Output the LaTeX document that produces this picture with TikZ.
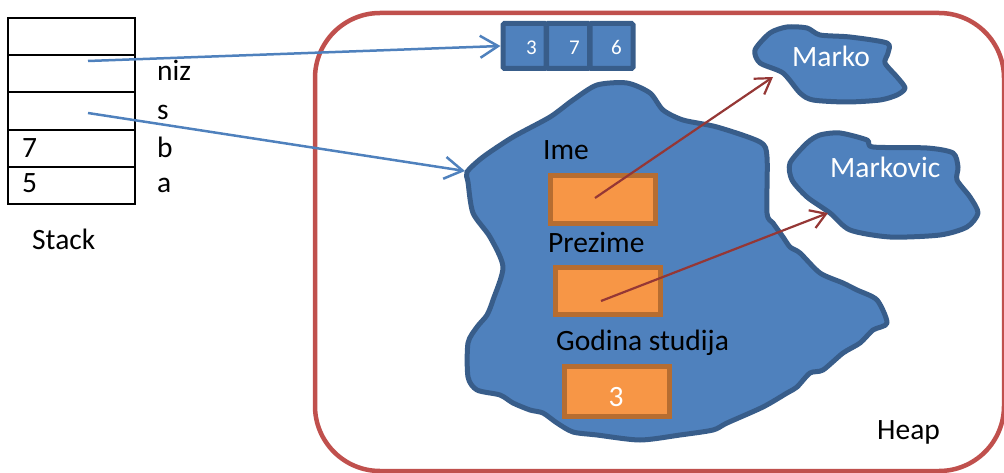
\documentclass[tikz,border=0pt]{standalone}
\usepackage{fontspec}
\setmainfont{Carlito}
\usetikzlibrary{arrows.meta}
\definecolor{heapred}{RGB}{192,80,77}
\definecolor{bfill}{RGB}{79,129,189}
\definecolor{bline}{RGB}{56,93,138}
\definecolor{ofill}{RGB}{247,150,70}
\definecolor{oline}{RGB}{182,109,49}
\definecolor{ared}{RGB}{149,55,53}
\begin{document}
\begin{tikzpicture}[x=1pt,y=-1pt,
  lbl/.style={anchor=base west, inner sep=0pt, font=\fontsize{29.5}{31}\selectfont},
  small/.style={anchor=base west, inner sep=0pt, text=white, font=\fontsize{21}{23}\selectfont},
  cell/.style={draw=black, line width=1.8pt, minimum width=127pt, minimum height=37pt, inner sep=0pt},
  arrcell/.style={draw=bline, fill=bfill, line width=5pt, rounded corners=1.5pt, minimum width=43pt, minimum height=45pt, inner sep=0pt},
  field/.style={draw=oline, fill=ofill, line width=4.5pt, minimum width=105pt, inner sep=0pt},
  blob/.style={draw=bline, fill=bfill, line width=5pt, line join=round},
  ptr/.style={draw=bfill, line width=2.5pt, -{Straight Barb[length=18pt,width=22pt,line width=2.5pt]}},
  rptr/.style={draw=ared, line width=2.2pt, -{Straight Barb[length=15pt,width=19pt,line width=2.2pt]}}
]
\useasboundingbox (0,0) rectangle (1004,473);

% heap frame
\draw[heapred, line width=4.5pt, rounded corners=65pt] (315,13) rectangle (1004,471);

% stack
\node[cell] (c1) at (71.5,36.5) {};
\node[cell] (c2) at (71.5,73.5) {};
\node[cell] (c3) at (71.5,111) {};
\node[cell] (c4) at (71.5,148.5) {};
\node[cell] (c5) at (71.5,185.5) {};
\node[lbl] (niz) at (157,81) {niz};
\node[lbl] (s) at (157,120) {s};
\node[lbl] (b) at (157,158) {b};
\node[lbl] (a) at (157,193) {a};
\node[lbl] (v7) at (22,158) {7};
\node[lbl] (v5) at (22,193) {5};
\node[lbl] (stack) at (32,249) {Stack};
\coordinate (p1) at (88,61);
\coordinate (p2) at (88,113);

% array
\node[arrcell] (a1) at (524.5,46) {};
\node[arrcell] (a2) at (568,46) {};
\node[arrcell] (a3) at (611.5,46) {};
\node[small] at (526,55) {3};
\node[small] at (569,55) {7};
\node[small] at (611,55) {6};

% main object blob
\draw[blob] plot[smooth cycle, tension=0.45] coordinates {
(467,172) (483,157) (513,137) (550,117) (573,100) (597,85) (627,83) (650,93)
(663,110) (683,120) (717,127) (760,142) (767,157) (767,213) (773,223) (783,237)
(790,247) (800,253) (820,273) (843,283) (857,290) (877,300) (887,323) (873,330)
(860,343) (843,353) (823,370) (810,373) (797,387) (787,393) (763,407) (727,423)
(713,430) (680,435) (640,440) (597,435) (573,432) (557,423) (543,413) (530,410)
(513,403) (500,395) (477,390) (468,377) (468,343) (477,327) (487,315) (493,300)
(503,267) (490,237) (473,213) (468,182)};
\coordinate (obj) at (465,171);

% Marko blob
\draw[blob] plot[smooth cycle, tension=0.45] coordinates {
(755,50) (770,33) (787,27) (807,28) (820,35) (850,37) (887,43) (888,53)
(885,63) (897,77) (905,88) (897,95) (880,100) (847,102) (813,100) (800,93)
(783,73) (760,63)};
\coordinate (mk) at (773,77);

% Markovic blob
\draw[blob] plot[smooth cycle, tension=0.45] coordinates {
(790,163) (807,143) (820,135) (840,133) (867,140) (873,147) (927,148) (953,153)
(958,167) (957,180) (970,197) (978,213) (967,227) (940,235) (890,237) (850,230)
(830,213) (807,197) (792,180)};
\coordinate (mv) at (828,213);

\node[lbl, text=white] (marko) at (792,67) {Marko};
\node[lbl, text=white] (markovic) at (830,178) {Markovic};

% fields
\node[lbl] (ime) at (543,160) {Ime};
\node[field, minimum height=48pt] (f1) at (603,199.5) {};
\node[lbl] (prez) at (548,252) {Prezime};
\node[field, minimum height=47pt] (f2) at (608,291) {};
\node[lbl] (god) at (556,350) {Godina studija};
\node[field, minimum height=50pt] (f3) at (617,391.5) {};
\node[lbl, text=white, anchor=base] (g3) at (616,406) {3};
\coordinate (q1) at (595,198);
\coordinate (q2) at (601,301);

\node[lbl] (heap) at (877,439) {Heap};

% pointers
\draw[ptr] (p1) -- (a1.west);
\draw[ptr] (p2) -- (obj);
\draw[rptr] (q1) -- (mk);
\draw[rptr] (q2) -- (mv);
\end{tikzpicture}
\end{document}
